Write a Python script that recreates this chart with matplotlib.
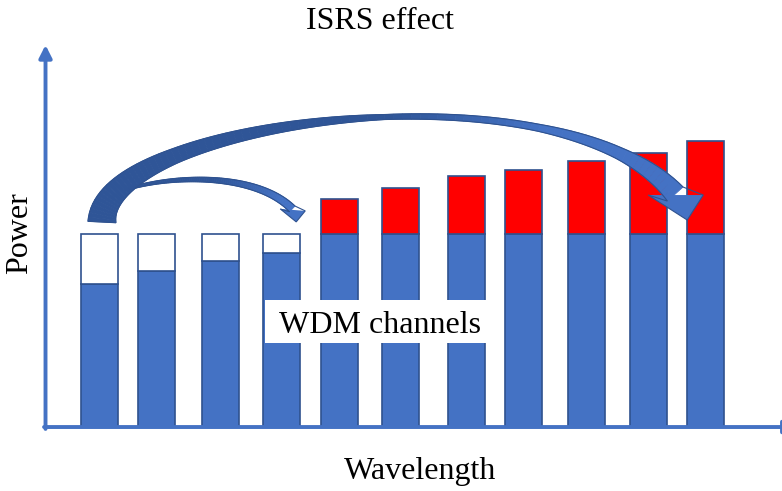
import numpy as np
import matplotlib
matplotlib.use('Agg')
import matplotlib.pyplot as plt
from matplotlib.patches import Polygon, Rectangle
from matplotlib.transforms import IdentityTransform
from matplotlib.colors import to_rgb

# Channel data (arbitrary power units, launch power = 10)
wavelength = [0, 0.94, 2.0, 3.0, 3.96, 4.97, 6.05, 7.0, 8.04, 9.06, 10.0]
launch_power = [10, 10, 10, 10, 10, 10, 10, 10, 10, 10, 10]
received_power = [7.4, 8.1, 8.6, 9.0, 10, 10, 10, 10, 10, 10, 10]
isrs_gain = [0, 0, 0, 0, 1.8, 2.4, 3.0, 3.3, 3.8, 4.2, 4.8]

BLUE = '#4472C4'
DARK = '#2F5597'
EDGE = '#2F528F'
FONT = 'Liberation Serif'

fig = plt.figure(figsize=(7.82, 4.91), dpi=100)
ax = fig.add_axes([0.0582, 0.1303, 0.9418, 0.7780])
ax.set_xlim(-0.891, 11.262)
ax.set_ylim(0, 19.79)
ax.axis('off')

wl = np.array(wavelength)
launch = np.array(launch_power)
recv = np.array(received_power)
gain = np.array(isrs_gain)

# received power (blue), depleted part (white), ISRS gain (red)
ax.bar(wl, recv, width=0.61, color=BLUE, edgecolor=EDGE, linewidth=1.2, zorder=2)
lost = launch > recv
ax.bar(wl[lost], (launch - recv)[lost], bottom=recv[lost], width=0.61,
       color='white', edgecolor=EDGE, linewidth=1.2, zorder=2)
gained = gain > 0
ax.bar(wl[gained], gain[gained], bottom=launch[gained], width=0.61,
       color='red', edgecolor=EDGE, linewidth=1.2, zorder=2)

# axis arrows
arrow_kw = dict(arrowstyle='-|>,head_length=0.75,head_width=0.38', color=BLUE,
                lw=2.8, shrinkA=0, shrinkB=0, mutation_scale=10)
ax.annotate('', xy=(0, 1), xytext=(0, -0.005), xycoords='axes fraction',
            arrowprops=arrow_kw, annotation_clip=False, zorder=3)
ax.annotate('', xy=(1.02, 0), xytext=(-0.002, 0), xycoords='axes fraction',
            arrowprops=arrow_kw, annotation_clip=False, zorder=3)


def ribbon_arrow(ctrl, t_knots, w_knots, head, c0, c1, fade, z):
    # curved arrow built in display pixels along a cubic Bezier
    p0, p1, p2, p3 = ax.transData.transform(ctrl)
    t = np.linspace(0, 1, 90)[:, None]
    curve = (1 - t)**3 * p0 + 3 * (1 - t)**2 * t * p1 + 3 * (1 - t) * t**2 * p2 + t**3 * p3
    d = np.gradient(curve, axis=0)
    d /= np.linalg.norm(d, axis=1)[:, None]
    n = np.column_stack([-d[:, 1], d[:, 0]])
    w = np.interp(t[:, 0], t_knots, w_knots)[:, None] / 2
    outer = curve + n * w
    inner = curve - n * w
    rgb0, rgb1 = np.array(to_rgb(c0)), np.array(to_rgb(c1))
    mix = np.clip((t[:, 0] - fade[0]) / (fade[1] - fade[0]), 0, 1)
    for i in range(len(t) - 1):
        col = (1 - mix[i]) * rgb0 + mix[i] * rgb1
        ax.add_patch(Polygon([outer[i], outer[i + 1], inner[i + 1], inner[i]],
                             facecolor=col, edgecolor=col, lw=0.6,
                             transform=IdentityTransform(), zorder=z))
    left, right, tip = [p3 + np.array(h) for h in head]
    ax.add_patch(Polygon([left, right, tip], facecolor=rgb1, edgecolor='none',
                         transform=IdentityTransform(), zorder=z))
    outline = np.vstack([outer, right, tip, left, inner[::-1]])
    ax.add_patch(Polygon(outline, facecolor='none', edgecolor=EDGE, lw=0.8,
                         transform=IdentityTransform(), zorder=z + 0.1))


# short-range arrow (to channel 4)
ribbon_arrow([(0.42, 12.28), (1.16, 13.06), (2.57, 13.21), (3.18, 11.30)],
             [0, 0.5, 1], [2, 5, 8],
             [(-12, 0), (13, -2), (4, -13)], DARK, BLUE, (0.5, 0.9), 4)
# long-range arrow (to channel 11)
ribbon_arrow([(0.04, 10.62), (0.04, 15.91), (7.60, 19.02), (9.50, 12.07)],
             [0, 0.25, 0.55, 0.75, 0.88, 1], [28, 15, 5, 7, 12, 21],
             [(-27, -1), (28, -1), (12, -26)], DARK, BLUE, (0.55, 0.75), 5)

# label with a white box behind it
label = ax.text(4.63, 4.87, 'WDM channels', ha='center', va='baseline', fontsize=23,
                family=FONT, zorder=7)
fig.canvas.draw()
bb = label.get_window_extent(fig.canvas.get_renderer())
base_y = ax.transData.transform((4.63, 4.87))[1]
ax.add_patch(Rectangle((bb.x0 - 14, base_y - 10), bb.width + 25, 43,
                       facecolor='white', edgecolor='none',
                       transform=IdentityTransform(), zorder=6))

fig.text(380 / 782, 1 - 29 / 491, 'ISRS effect', ha='center', va='baseline',
         fontsize=23, family=FONT)
fig.text(420 / 782, 1 - 479 / 491, 'Wavelength', ha='center', va='baseline',
         fontsize=23, family=FONT)
fig.text(27 / 782, 1 - 233 / 491, 'Power', rotation=90, rotation_mode='anchor',
         ha='center', va='baseline', fontsize=23, family=FONT)

fig.savefig('out.png', dpi=100)
